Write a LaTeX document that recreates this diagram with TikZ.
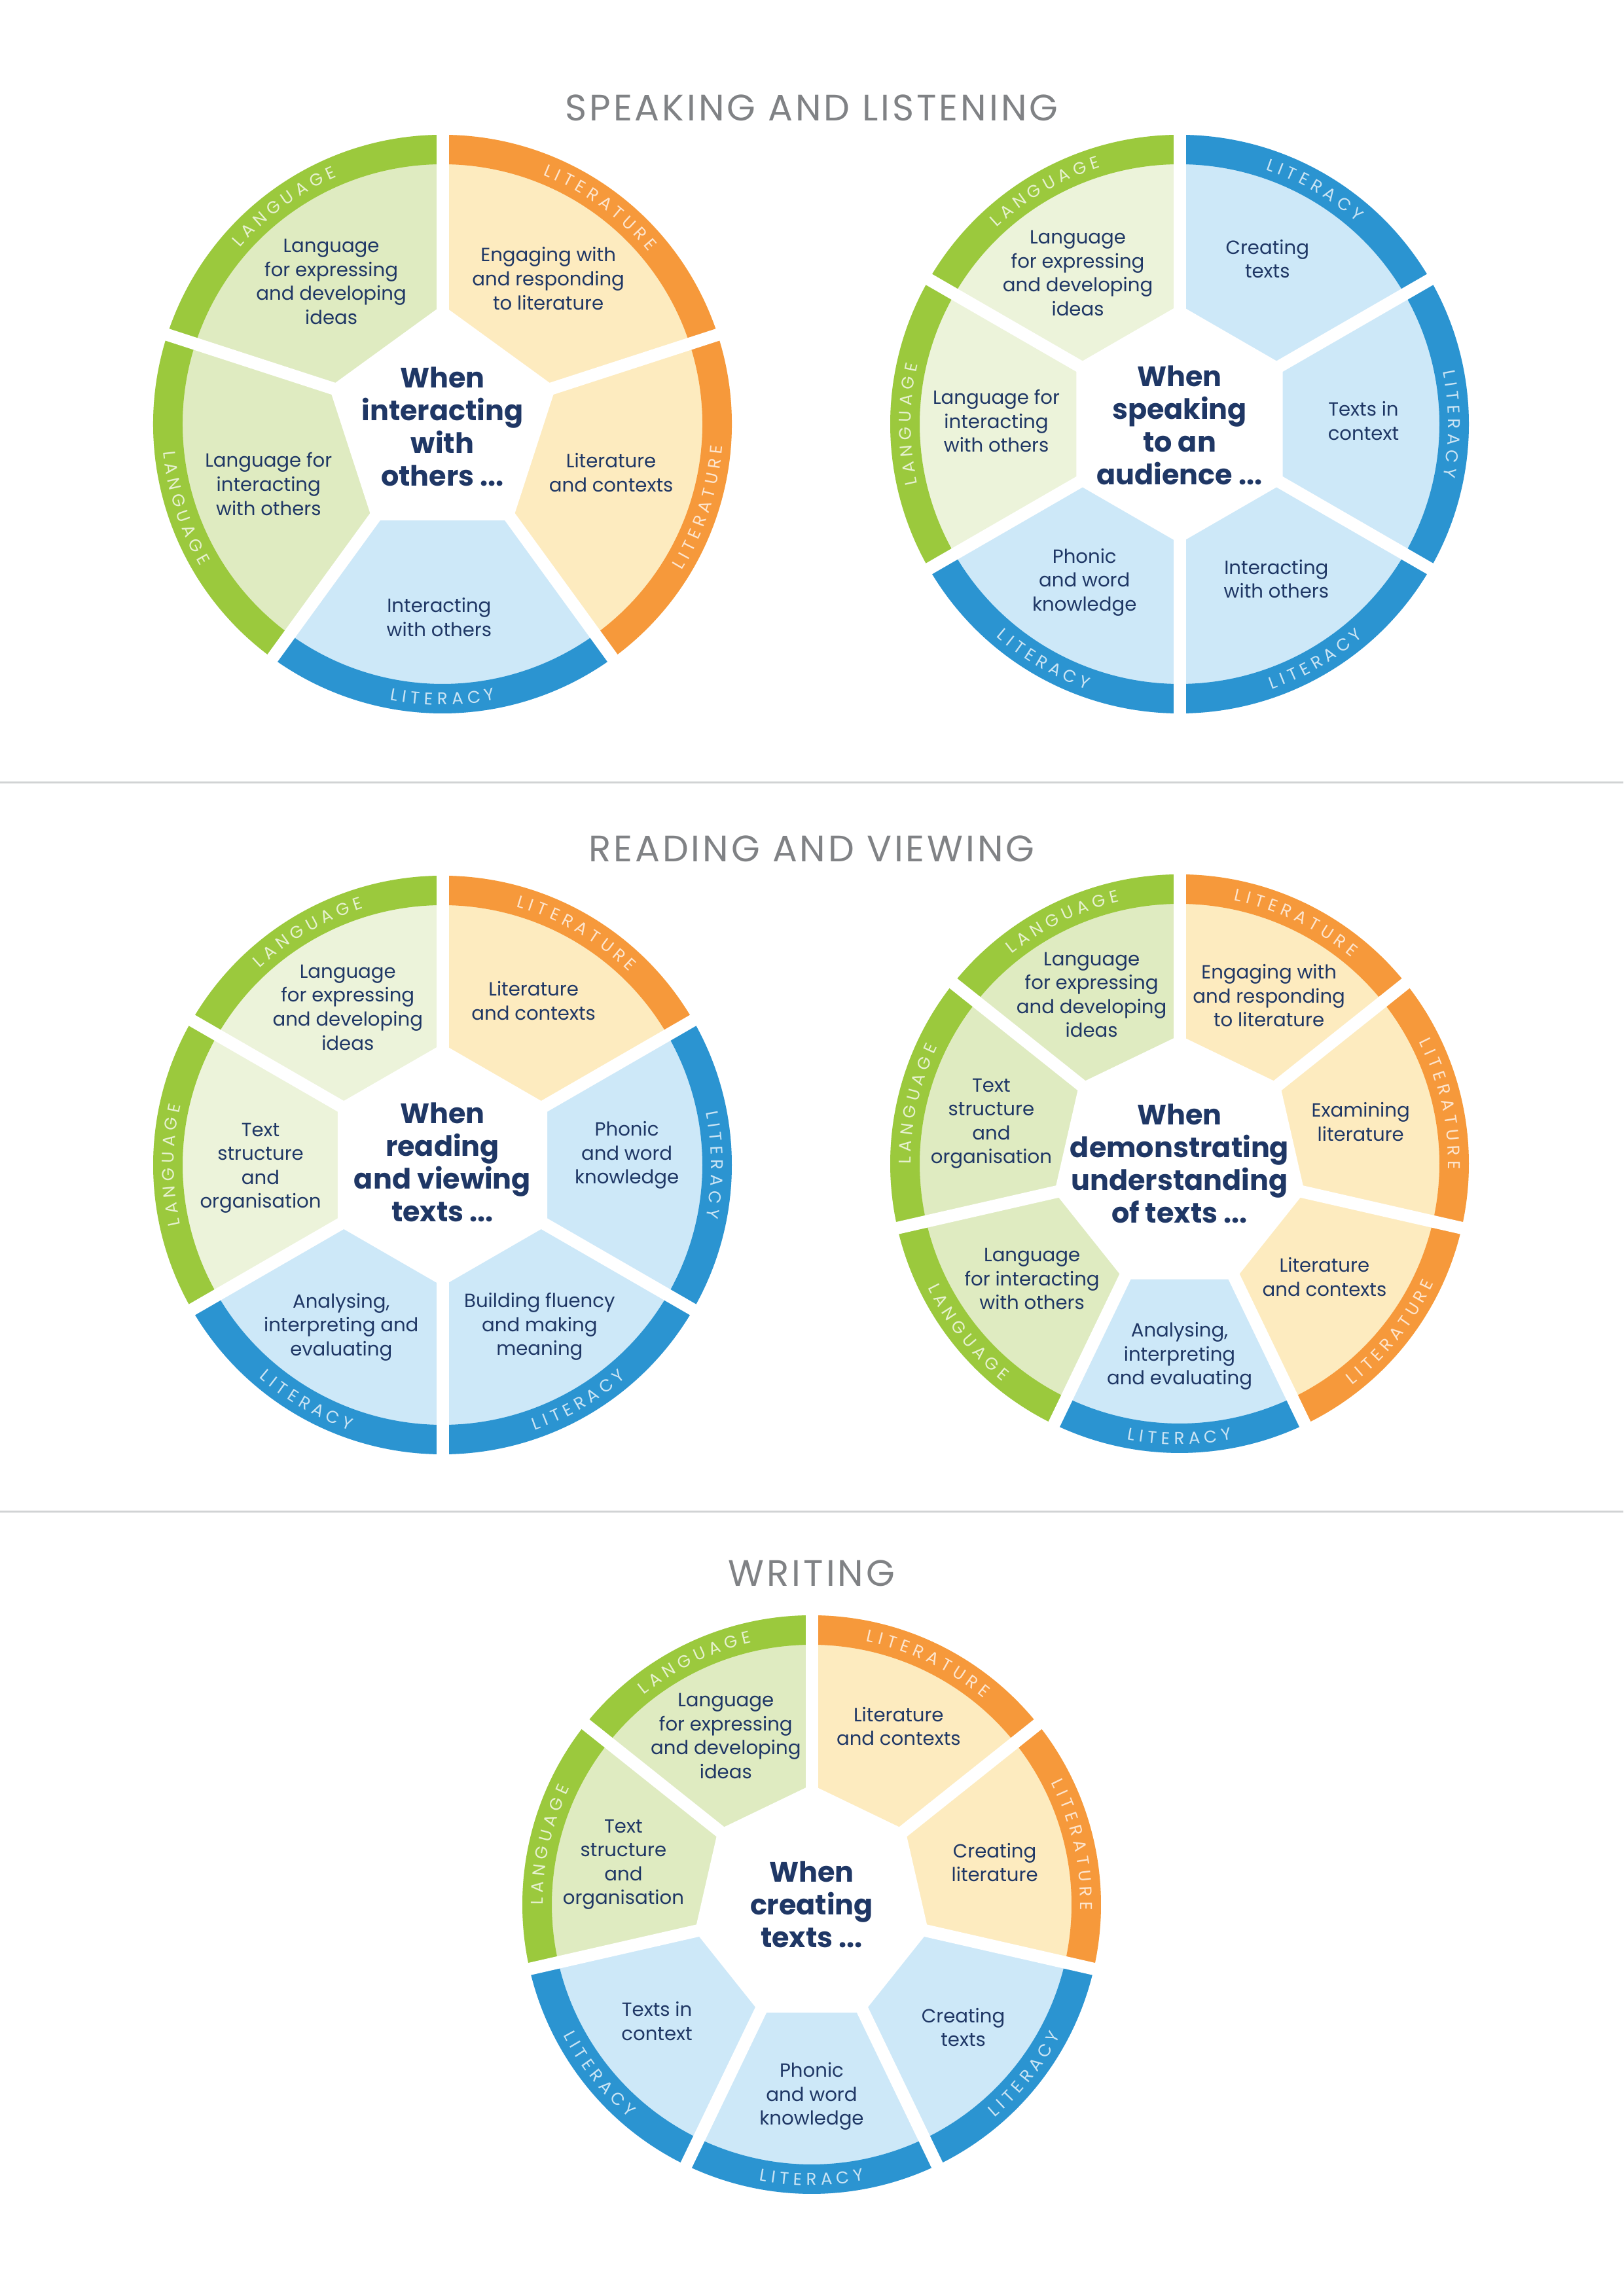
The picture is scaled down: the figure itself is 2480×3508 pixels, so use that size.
\documentclass[tikz,border=0pt]{standalone}
\usepackage{fontspec}
\setmainfont{Poppins}
\usetikzlibrary{decorations.text}

\definecolor{bandgreen}{HTML}{9BC93D}
\definecolor{bandorange}{HTML}{F6993B}
\definecolor{bandblue}{HTML}{2B94D1}
\definecolor{greenlight}{HTML}{DFEBC1}
\definecolor{greenpale}{HTML}{ECF3DA}
\definecolor{orangelight}{HTML}{FDEBBF}
\definecolor{bluelight}{HTML}{CDE8F8}
\definecolor{navy}{HTML}{1F3765}
\definecolor{titlegray}{HTML}{808285}
\definecolor{rulegray}{HTML}{D1D3D4}

\newcommand{\outerR}{442}
\newcommand{\bandR}{397}
\newcommand{\bandfont}{\fontsize{7.4}{8}\selectfont}

% one slice: start angle, end angle, fill, band colour, band word, 0 = read clockwise / 1 = anticlockwise
\newcommand{\wheelslice}[6]{%
  \fill[#3] (0,0) -- (#1:\outerR) arc[start angle=#1, end angle=#2, radius=\outerR] -- cycle;
  \fill[#4] (#1:\outerR) arc[start angle=#1, end angle=#2, radius=\outerR]
    -- (#2:\bandR) arc[start angle=#2, end angle=#1, radius=\bandR] -- cycle;
  \ifnum#6=0
    \path[decorate, decoration={text along path, text align=center,
      text={|\bandfont\color{white!75!#4}|#5}}]
      (#2:410.5) arc[start angle=#2, end angle=#1, radius=410.5];
  \else
    \path[decorate, decoration={text along path, text align=center,
      text={|\bandfont\color{white!75!#4}|#5}}]
      (#1:429) arc[start angle=#1, end angle=#2, radius=429];
  \fi
}

\begin{document}
\begin{tikzpicture}[
    x=0.01cm, y=0.01cm,
    heading/.style={text=titlegray, font=\fontsize{16}{18}\selectfont\addfontfeatures{LetterSpace=7}},
    seglabel/.style={text=navy, align=center, inner sep=0pt, font=\fontsize{8.3}{10.4}\selectfont},
    hubtext/.style={text=navy, align=center, inner sep=0pt, font=\fontsize{12.2}{14.2}\selectfont\bfseries},
    gapline/.style={white, line width=0.19cm},
    sepline/.style={rulegray, line width=0.03cm}
  ]
  \useasboundingbox (0,0) rectangle (2480,3508);

  % section headings and rules
  \node[heading] (sl) at (1240,3343) {SPEAKING AND LISTENING};
  \node[heading] (rv) at (1240,2211) {READING AND VIEWING};
  \node[heading] (wr) at (1240,1104) {WRITING};
  \draw[sepline] (0,2312) -- (2480,2312);
  \draw[sepline] (0,1198) -- (2480,1198);

  % wheel 1
  \begin{scope}[shift={(676,2860)}]
    \wheelslice{18}{90}{orangelight}{bandorange}{L I T E R A T U R E}{0}
    \wheelslice{-54}{18}{orangelight}{bandorange}{L I T E R A T U R E}{1}
    \wheelslice{-126}{-54}{bluelight}{bandblue}{L I T E R A C Y}{1}
    \wheelslice{-198}{-126}{greenlight}{bandgreen}{L A N G U A G E}{1}
    \wheelslice{90}{162}{greenlight}{bandgreen}{L A N G U A G E}{0}
    \foreach \a in {90,18,-54,-126,162} \draw[gapline] (0,0) -- (\a:460);
    \fill[white] (90:182) \foreach \k in {1,...,4} {-- (90-\k*72:182)} -- cycle;
    \node[seglabel] (w1a) at (128:276) {Language\\for expressing\\and developing\\ideas};
    \node[seglabel] (w1b) at (54:275) {Engaging with\\and responding\\to literature};
    \node[seglabel] (w1c) at (-16:268) {Literature\\and contexts};
    \node[seglabel] (w1d) at (-91:295) {Interacting\\with others};
    \node[seglabel] (w1e) at (-161:281) {Language for\\interacting\\with others};
    \node[hubtext] (w1m) at (0,-4) {When\\interacting\\with\\others ...};
  \end{scope}

  % wheel 2
  \begin{scope}[shift={(1802,2860)}]
    \wheelslice{90}{150}{greenpale}{bandgreen}{L A N G U A G E}{0}
    \wheelslice{30}{90}{bluelight}{bandblue}{L I T E R A C Y}{0}
    \wheelslice{-30}{30}{bluelight}{bandblue}{L I T E R A C Y}{0}
    \wheelslice{-90}{-30}{bluelight}{bandblue}{L I T E R A C Y}{1}
    \wheelslice{-150}{-90}{bluelight}{bandblue}{L I T E R A C Y}{1}
    \wheelslice{150}{210}{greenpale}{bandgreen}{L A N G U A G E}{0}
    \foreach \a in {90,30,-30,-90,-150,150} \draw[gapline] (0,0) -- (\a:460);
    \fill[white] (90:182) \foreach \k in {1,...,5} {-- (90-\k*60:182)} -- cycle;
    \node[seglabel] (w2a) at (124:278) {Language\\for expressing\\and developing\\ideas};
    \node[seglabel] (w2b) at (62:286) {Creating\\texts};
    \node[seglabel] (w2c) at (1:281) {Texts in\\context};
    \node[seglabel] (w2d) at (-58:279) {Interacting\\with others};
    \node[seglabel] (w2e) at (-121:282) {Phonic\\and word\\knowledge};
    \node[seglabel] (w2f) at (179:280) {Language for\\interacting\\with others};
    \node[hubtext] (w2m) at (0,-2) {When\\speaking\\to an\\audience ...};
  \end{scope}

  % wheel 3
  \begin{scope}[shift={(676,1728)}]
    \wheelslice{90}{150}{greenpale}{bandgreen}{L A N G U A G E}{0}
    \wheelslice{30}{90}{orangelight}{bandorange}{L I T E R A T U R E}{0}
    \wheelslice{-30}{30}{bluelight}{bandblue}{L I T E R A C Y}{0}
    \wheelslice{-90}{-30}{bluelight}{bandblue}{L I T E R A C Y}{1}
    \wheelslice{-150}{-90}{bluelight}{bandblue}{L I T E R A C Y}{1}
    \wheelslice{150}{210}{greenpale}{bandgreen}{L A N G U A G E}{0}
    \foreach \a in {90,30,-30,-90,-150,150} \draw[gapline] (0,0) -- (\a:460);
    \fill[white] (90:185) \foreach \k in {1,...,5} {-- (90-\k*60:185)} -- cycle;
    \node[seglabel] (w3a) at (121:281) {Language\\for expressing\\and developing\\ideas};
    \node[seglabel] (w3b) at (61:287) {Literature\\and contexts};
    \node[seglabel] (w3c) at (3:282) {Phonic\\and word\\knowledge};
    \node[seglabel] (w3d) at (-59:288) {Building fluency\\and making\\meaning};
    \node[seglabel] (w3e) at (-122:292) {Analysing,\\interpreting and\\evaluating};
    \node[seglabel] (w3f) at (181:278) {Text\\structure\\and\\organisation};
    \node[hubtext] (w3m) at (0,4) {When\\reading\\and viewing\\texts ...};
  \end{scope}

  % wheel 4
  \begin{scope}[shift={(1802,1730)}]
    \wheelslice{90}{141.429}{greenlight}{bandgreen}{L A N G U A G E}{0}
    \wheelslice{38.571}{90}{orangelight}{bandorange}{L I T E R A T U R E}{0}
    \wheelslice{-12.857}{38.571}{orangelight}{bandorange}{L I T E R A T U R E}{0}
    \wheelslice{-64.286}{-12.857}{orangelight}{bandorange}{L I T E R A T U R E}{1}
    \wheelslice{-115.714}{-64.286}{bluelight}{bandblue}{L I T E R A C Y}{1}
    \wheelslice{-167.143}{-115.714}{greenlight}{bandgreen}{L A N G U A G E}{1}
    \wheelslice{141.429}{192.857}{greenlight}{bandgreen}{L A N G U A G E}{0}
    \foreach \a in {90,38.571,-12.857,-64.286,-115.714,-167.143,141.429} \draw[gapline] (0,0) -- (\a:460);
    \fill[white] (90:196) \foreach \k in {1,...,6} {-- (90-\k*51.4286:196)} -- cycle;
    \node[seglabel] (w4a) at (117.5:291) {Language\\for expressing\\and developing\\ideas};
    \node[seglabel] (w4b) at (62:291) {Engaging with\\and responding\\to literature};
    \node[seglabel] (w4c) at (13:284) {Examining\\literature};
    \node[seglabel] (w4d) at (-38:281) {Literature\\and contexts};
    \node[seglabel] (w4e) at (-90:294) {Analysing,\\interpreting\\and evaluating};
    \node[seglabel] (w4f) at (-142:286) {Language\\for interacting\\with others};
    \node[seglabel] (w4g) at (168:294) {Text\\structure\\and\\organisation};
    \node[hubtext] (w4m) at (0,0) {When\\demonstrating\\understanding\\of texts ...};
  \end{scope}

  % wheel 5
  \begin{scope}[shift={(1240,598)}]
    \wheelslice{90}{141.429}{greenlight}{bandgreen}{L A N G U A G E}{0}
    \wheelslice{38.571}{90}{orangelight}{bandorange}{L I T E R A T U R E}{0}
    \wheelslice{-12.857}{38.571}{orangelight}{bandorange}{L I T E R A T U R E}{0}
    \wheelslice{-64.286}{-12.857}{bluelight}{bandblue}{L I T E R A C Y}{1}
    \wheelslice{-115.714}{-64.286}{bluelight}{bandblue}{L I T E R A C Y}{1}
    \wheelslice{-167.143}{-115.714}{bluelight}{bandblue}{L I T E R A C Y}{1}
    \wheelslice{141.429}{192.857}{greenlight}{bandgreen}{L A N G U A G E}{0}
    \foreach \a in {90,38.571,-12.857,-64.286,-115.714,-167.143,141.429} \draw[gapline] (0,0) -- (\a:460);
    \fill[white] (90:183) \foreach \k in {1,...,6} {-- (90-\k*51.4286:183)} -- cycle;
    \node[seglabel] (w5a) at (117:289) {Language\\for expressing\\and developing\\ideas};
    \node[seglabel] (w5b) at (64:303) {Literature\\and contexts};
    \node[seglabel] (w5c) at (13:287) {Creating\\literature};
    \node[seglabel] (w5d) at (-39:298) {Creating\\texts};
    \node[seglabel] (w5e) at (-90:293) {Phonic\\and word\\knowledge};
    \node[seglabel] (w5f) at (-143:296) {Texts in\\context};
    \node[seglabel] (w5g) at (168:294) {Text\\structure\\and\\organisation};
    \node[hubtext] (w5m) at (0,0) {When\\creating\\texts ...};
  \end{scope}
\end{tikzpicture}
\end{document}
